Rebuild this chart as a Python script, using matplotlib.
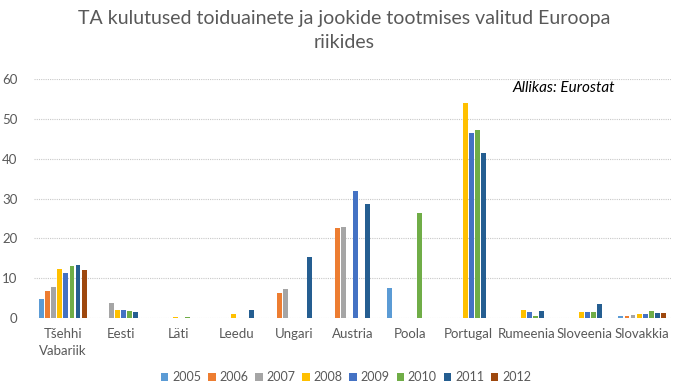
import matplotlib
matplotlib.use("Agg")
import matplotlib.pyplot as plt
import numpy as np
from matplotlib.patches import Patch

categories = ["Tšehhi\nVabariik", "Eesti", "Läti", "Leedu", "Ungari", "Austria",
              "Poola", "Portugal", "Rumeenia", "Sloveenia", "Slovakkia"]
years = ["2005", "2006", "2007", "2008", "2009", "2010", "2011", "2012"]
N = np.nan
v2005 = [4.7, N, N, N, N, N, 7.5, N, N, N, 0.4]
v2006 = [6.9, N, N, N, 6.3, 22.7, N, N, N, N, 0.5]
v2007 = [7.7, 3.7, N, N, 7.3, 22.8, N, N, N, N, 0.75]
v2008 = [12.4, 2.0, 0.2, 1.1, N, N, N, 54.1, 2.0, 1.5, 1.0]
v2009 = [11.2, 2.0, N, N, N, 32.0, N, 46.4, 1.4, 1.5, 0.9]
v2010 = [13.1, 1.7, 0.35, N, N, N, 26.3, 47.1, 0.5, 1.5, 1.75]
v2011 = [13.2, 1.5, N, 1.9, 15.3, 28.7, N, 41.4, 1.8, 3.6, 1.2]
v2012 = [12.0, N, N, N, N, N, N, N, N, N, 1.2]
series = [v2005, v2006, v2007, v2008, v2009, v2010, v2011, v2012]
colors = ["#5B9BD5", "#ED7D31", "#A5A5A5", "#FFC000", "#4472C4", "#70AD47", "#255E91", "#9E480E"]

fig = plt.figure(figsize=(6.88, 3.91), dpi=100)
ax = fig.add_axes([34/688, (391-318)/391, 637/688, (318-79)/391])

x = np.arange(len(categories))
slot = 0.104
for i, (vals, c) in enumerate(zip(series, colors)):
    ax.bar(x + (i - 3.5) * slot, vals, width=slot * 0.82, color=c,
           edgecolor="none", zorder=3, label=years[i])

ax.set_xlim(-0.5, len(categories) - 0.5)
ax.set_ylim(0, 60)
ax.set_yticks(range(0, 61, 10))
ax.yaxis.grid(True, color="#C8C8C8", linestyle=(0, (1, 1)), linewidth=0.8, zorder=0)
for s in ax.spines.values():
    s.set_visible(False)
ax.tick_params(axis="both", length=0, colors="#595959", labelsize=9.5)
ax.tick_params(axis="y", pad=12)
ax.tick_params(axis="x", pad=7)
ax.set_xticks(x)
ax.set_xticklabels(categories, fontfamily="Lato", fontsize=9.5, color="#595959",
                   linespacing=1.5)
for lab in ax.get_yticklabels():
    lab.set_fontfamily("Lato")

fig.text(0.5, 1 - 30.5/391, "TA kulutused toiduainete ja jookide tootmises valitud Euroopa\nriikides",
         ha="center", va="center", fontsize=14, color="#595959", fontfamily="Lato",
         linespacing=1.55)
fig.text(513/688, 1 - 88/391, "Allikas: Eurostat", ha="left", va="center",
         fontsize=11, style="italic", color="black", fontfamily="Lato")

handles = [Patch(facecolor=c, edgecolor="none", label=y) for c, y in zip(colors, years)]
fig.legend(handles=handles, loc="center", bbox_to_anchor=(346/688, 1 - 377/391), ncol=8,
           frameon=False, handlelength=0.6, handleheight=0.6, handletextpad=0.3,
           columnspacing=0.55, prop={"family": "Lato", "size": 9},
           labelcolor="#595959")

fig.savefig("out.png", dpi=100)
